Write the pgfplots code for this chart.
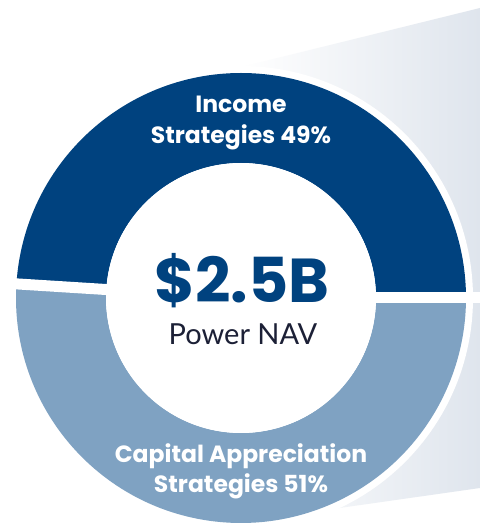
\documentclass[border=0pt]{standalone}
\usepackage{pgfplots}
\pgfplotsset{compat=1.18}
\usepackage{fontspec}
\setmainfont{Lato}
\newfontfamily\pop{Poppins}
\definecolor{darkblue}{HTML}{00427F}
\definecolor{lightblue}{HTML}{7FA2C2}
\definecolor{panel}{HTML}{DFE5ED}
\definecolor{navtext}{HTML}{1C2036}
% shares (percent)
\def\incomeshare{49}
\def\capitalshare{51}
\def\cx{241}
\def\cy{230}
\def\Rout{225}
\def\Rin{135}
\begin{document}
\begin{tikzpicture}
\begin{axis}[
  scale only axis, width=480pt, height=528pt,
  xmin=0, xmax=480, ymin=0, ymax=528,
  hide axis, clip=true,
]
\pgfmathsetmacro{\splitangle}{\incomeshare*3.6}
% background
\fill[white] (axis cs:0,0) rectangle (axis cs:480,528);
% gray panel
\shade[left color=white, right color=panel]
  (axis cs:241,461) -- (axis cs:480,520) -- (axis cs:480,40) -- (axis cs:241,6) -- cycle;
% white ring
\fill[white] (axis cs:\cx,\cy) circle[radius=232];
% income wedge
\fill[darkblue] (axis cs:{\cx+\Rout},\cy) arc[start angle=0, end angle=\splitangle, radius=\Rout]
  -- (axis cs:{\cx+\Rin*cos(\splitangle)},{\cy+\Rin*sin(\splitangle)})
  arc[start angle=\splitangle, end angle=0, radius=\Rin] -- cycle;
% capital wedge
\fill[lightblue] (axis cs:{\cx+\Rout*cos(\splitangle)},{\cy+\Rout*sin(\splitangle)})
  arc[start angle=\splitangle, end angle=360, radius=\Rout]
  -- (axis cs:{\cx+\Rin},\cy)
  arc[start angle=360, end angle=\splitangle, radius=\Rin] -- cycle;
% gaps
\draw[white, line width=11pt] (axis cs:\cx,\cy) -- (axis cs:480,\cy);
\draw[white, line width=11pt] (axis cs:\cx,\cy) -- (axis cs:{\cx+240*cos(\splitangle)},{\cy+240*sin(\splitangle)});
% center
\fill[white] (axis cs:\cx,\cy) circle[radius=\Rin];
% labels
\node[anchor=base, inner sep=0pt, text=white, font=\pop\fontsize{23.5}{28}\selectfont\bfseries] at (axis cs:241,415) {Income};
\node[anchor=base, inner sep=0pt, text=white, font=\pop\fontsize{23.5}{28}\selectfont\bfseries] at (axis cs:241,384) {Strategies \incomeshare\%};
\node[anchor=base, inner sep=0pt, text=white, font=\pop\fontsize{23.5}{28}\selectfont\bfseries] at (axis cs:241,65) {Capital Appreciation};
\node[anchor=base, inner sep=0pt, text=white, font=\pop\fontsize{23.5}{28}\selectfont\bfseries] at (axis cs:241,35) {Strategies \capitalshare\%};
\node[anchor=base, inner sep=0pt, text=darkblue, font=\pop\fontsize{62}{72}\selectfont\bfseries] at (axis cs:242,225) {\$2.5B};
\node[anchor=base, inner sep=0pt, text=navtext, font=\fontsize{29}{34}\selectfont] at (axis cs:243,183) {Power NAV};
\end{axis}
\end{tikzpicture}
\end{document}
